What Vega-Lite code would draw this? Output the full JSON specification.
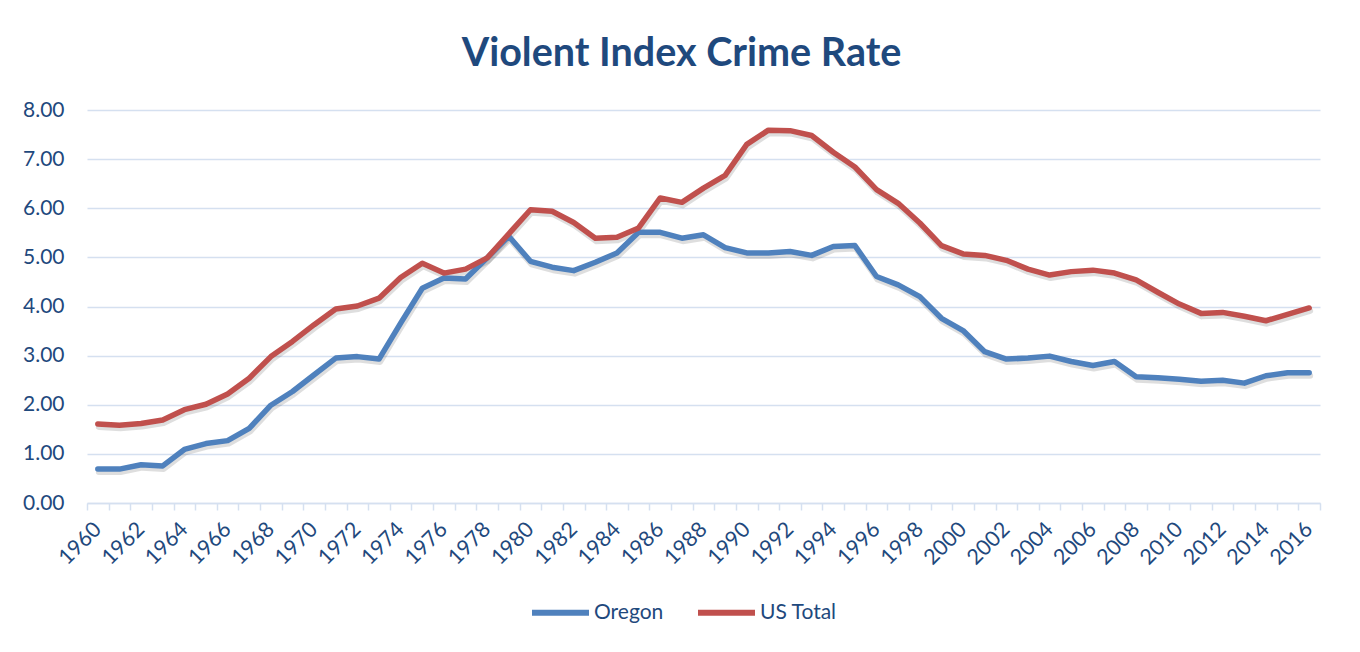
{
  "$schema": "https://vega.github.io/schema/vega-lite/v6.json",
  "autosize": {"type": "none"},
  "width": 1233,
  "height": 393,
  "padding": {"left": 87, "top": 110, "right": 40, "bottom": 149},
  "background": "white",
  "title": {
    "text": "Violent Index Crime Rate",
    "font": "Lato",
    "fontSize": 39.5,
    "fontWeight": "bold",
    "color": "#1F497D",
    "anchor": "middle",
    "dx": -22,
    "offset": 25
  },
  "data": {
    "values": [
      {"year": 1960, "series": "Oregon", "value": 0.69},
      {"year": 1961, "series": "Oregon", "value": 0.69},
      {"year": 1962, "series": "Oregon", "value": 0.78},
      {"year": 1963, "series": "Oregon", "value": 0.755},
      {"year": 1964, "series": "Oregon", "value": 1.09},
      {"year": 1965, "series": "Oregon", "value": 1.21},
      {"year": 1966, "series": "Oregon", "value": 1.27},
      {"year": 1967, "series": "Oregon", "value": 1.52},
      {"year": 1968, "series": "Oregon", "value": 1.99},
      {"year": 1969, "series": "Oregon", "value": 2.27},
      {"year": 1970, "series": "Oregon", "value": 2.61},
      {"year": 1971, "series": "Oregon", "value": 2.95},
      {"year": 1972, "series": "Oregon", "value": 2.98},
      {"year": 1973, "series": "Oregon", "value": 2.93},
      {"year": 1974, "series": "Oregon", "value": 3.66},
      {"year": 1975, "series": "Oregon", "value": 4.37},
      {"year": 1976, "series": "Oregon", "value": 4.58},
      {"year": 1977, "series": "Oregon", "value": 4.56},
      {"year": 1978, "series": "Oregon", "value": 4.99},
      {"year": 1979, "series": "Oregon", "value": 5.43},
      {"year": 1980, "series": "Oregon", "value": 4.92},
      {"year": 1981, "series": "Oregon", "value": 4.80},
      {"year": 1982, "series": "Oregon", "value": 4.73},
      {"year": 1983, "series": "Oregon", "value": 4.90},
      {"year": 1984, "series": "Oregon", "value": 5.09},
      {"year": 1985, "series": "Oregon", "value": 5.51},
      {"year": 1986, "series": "Oregon", "value": 5.51},
      {"year": 1987, "series": "Oregon", "value": 5.39},
      {"year": 1988, "series": "Oregon", "value": 5.46},
      {"year": 1989, "series": "Oregon", "value": 5.20},
      {"year": 1990, "series": "Oregon", "value": 5.09},
      {"year": 1991, "series": "Oregon", "value": 5.09},
      {"year": 1992, "series": "Oregon", "value": 5.12},
      {"year": 1993, "series": "Oregon", "value": 5.04},
      {"year": 1994, "series": "Oregon", "value": 5.22},
      {"year": 1995, "series": "Oregon", "value": 5.24},
      {"year": 1996, "series": "Oregon", "value": 4.61},
      {"year": 1997, "series": "Oregon", "value": 4.44},
      {"year": 1998, "series": "Oregon", "value": 4.20},
      {"year": 1999, "series": "Oregon", "value": 3.76},
      {"year": 2000, "series": "Oregon", "value": 3.51},
      {"year": 2001, "series": "Oregon", "value": 3.08},
      {"year": 2002, "series": "Oregon", "value": 2.93},
      {"year": 2003, "series": "Oregon", "value": 2.95},
      {"year": 2004, "series": "Oregon", "value": 2.99},
      {"year": 2005, "series": "Oregon", "value": 2.88},
      {"year": 2006, "series": "Oregon", "value": 2.80},
      {"year": 2007, "series": "Oregon", "value": 2.88},
      {"year": 2008, "series": "Oregon", "value": 2.57},
      {"year": 2009, "series": "Oregon", "value": 2.55},
      {"year": 2010, "series": "Oregon", "value": 2.52},
      {"year": 2011, "series": "Oregon", "value": 2.48},
      {"year": 2012, "series": "Oregon", "value": 2.50},
      {"year": 2013, "series": "Oregon", "value": 2.44},
      {"year": 2014, "series": "Oregon", "value": 2.59},
      {"year": 2015, "series": "Oregon", "value": 2.65},
      {"year": 2016, "series": "Oregon", "value": 2.65},
      {"year": 1960, "series": "US Total", "value": 1.61},
      {"year": 1961, "series": "US Total", "value": 1.585},
      {"year": 1962, "series": "US Total", "value": 1.62},
      {"year": 1963, "series": "US Total", "value": 1.69},
      {"year": 1964, "series": "US Total", "value": 1.90},
      {"year": 1965, "series": "US Total", "value": 2.01},
      {"year": 1966, "series": "US Total", "value": 2.22},
      {"year": 1967, "series": "US Total", "value": 2.54},
      {"year": 1968, "series": "US Total", "value": 2.98},
      {"year": 1969, "series": "US Total", "value": 3.29},
      {"year": 1970, "series": "US Total", "value": 3.63},
      {"year": 1971, "series": "US Total", "value": 3.95},
      {"year": 1972, "series": "US Total", "value": 4.01},
      {"year": 1973, "series": "US Total", "value": 4.17},
      {"year": 1974, "series": "US Total", "value": 4.59},
      {"year": 1975, "series": "US Total", "value": 4.88},
      {"year": 1976, "series": "US Total", "value": 4.68},
      {"year": 1977, "series": "US Total", "value": 4.76},
      {"year": 1978, "series": "US Total", "value": 4.99},
      {"year": 1979, "series": "US Total", "value": 5.48},
      {"year": 1980, "series": "US Total", "value": 5.97},
      {"year": 1981, "series": "US Total", "value": 5.94},
      {"year": 1982, "series": "US Total", "value": 5.71},
      {"year": 1983, "series": "US Total", "value": 5.39},
      {"year": 1984, "series": "US Total", "value": 5.41},
      {"year": 1985, "series": "US Total", "value": 5.60},
      {"year": 1986, "series": "US Total", "value": 6.21},
      {"year": 1987, "series": "US Total", "value": 6.12},
      {"year": 1988, "series": "US Total", "value": 6.41},
      {"year": 1989, "series": "US Total", "value": 6.67},
      {"year": 1990, "series": "US Total", "value": 7.30},
      {"year": 1991, "series": "US Total", "value": 7.59},
      {"year": 1992, "series": "US Total", "value": 7.58},
      {"year": 1993, "series": "US Total", "value": 7.48},
      {"year": 1994, "series": "US Total", "value": 7.14},
      {"year": 1995, "series": "US Total", "value": 6.84},
      {"year": 1996, "series": "US Total", "value": 6.38},
      {"year": 1997, "series": "US Total", "value": 6.10},
      {"year": 1998, "series": "US Total", "value": 5.70},
      {"year": 1999, "series": "US Total", "value": 5.24},
      {"year": 2000, "series": "US Total", "value": 5.07},
      {"year": 2001, "series": "US Total", "value": 5.04},
      {"year": 2002, "series": "US Total", "value": 4.94},
      {"year": 2003, "series": "US Total", "value": 4.76},
      {"year": 2004, "series": "US Total", "value": 4.64},
      {"year": 2005, "series": "US Total", "value": 4.71},
      {"year": 2006, "series": "US Total", "value": 4.74},
      {"year": 2007, "series": "US Total", "value": 4.68},
      {"year": 2008, "series": "US Total", "value": 4.54},
      {"year": 2009, "series": "US Total", "value": 4.29},
      {"year": 2010, "series": "US Total", "value": 4.05},
      {"year": 2011, "series": "US Total", "value": 3.86},
      {"year": 2012, "series": "US Total", "value": 3.88},
      {"year": 2013, "series": "US Total", "value": 3.80},
      {"year": 2014, "series": "US Total", "value": 3.71},
      {"year": 2015, "series": "US Total", "value": 3.84},
      {"year": 2016, "series": "US Total", "value": 3.97}
    ]
  },
  "layer": [
    {
      "mark": {"type": "line", "color": "#000000", "opacity": 0.13, "strokeWidth": 6, "yOffset": 3, "xOffset": 1, "strokeCap": "round", "strokeJoin": "round"},
      "encoding": {
        "x": {
          "field": "year", "type": "quantitative",
          "scale": {"domain": [1959.5, 2016.5], "nice": false, "zero": false},
          "axis": {
            "orient": "bottom",
            "title": null,
            "labels": false,
            "domain": false,
            "grid": false,
            "ticks": true,
            "tickSize": 7,
            "tickWidth": 1.5,
            "tickColor": "#D5E0F0",
            "values": [1959.5, 1960.5, 1961.5, 1962.5, 1963.5, 1964.5, 1965.5, 1966.5, 1967.5, 1968.5, 1969.5, 1970.5, 1971.5, 1972.5, 1973.5, 1974.5, 1975.5, 1976.5, 1977.5, 1978.5, 1979.5, 1980.5, 1981.5, 1982.5, 1983.5, 1984.5, 1985.5, 1986.5, 1987.5, 1988.5, 1989.5, 1990.5, 1991.5, 1992.5, 1993.5, 1994.5, 1995.5, 1996.5, 1997.5, 1998.5, 1999.5, 2000.5, 2001.5, 2002.5, 2003.5, 2004.5, 2005.5, 2006.5, 2007.5, 2008.5, 2009.5, 2010.5, 2011.5, 2012.5, 2013.5, 2014.5, 2015.5, 2016.5]
          }
        },
        "y": {"field": "value", "type": "quantitative", "scale": {"domain": [0, 8], "nice": false}},
        "detail": {"field": "series"}
      }
    },
    {
      "mark": {"type": "line", "strokeWidth": 5.5, "strokeCap": "round", "strokeJoin": "round"},
      "encoding": {
        "x": {
          "field": "year", "type": "quantitative",
          "axis": {
            "orient": "bottom",
            "title": null,
            "values": [1960, 1962, 1964, 1966, 1968, 1970, 1972, 1974, 1976, 1978, 1980, 1982, 1984, 1986, 1988, 1990, 1992, 1994, 1996, 1998, 2000, 2002, 2004, 2006, 2008, 2010, 2012, 2014, 2016],
            "format": "d",
            "labelAngle": -45,
            "labelAlign": "right",
            "labelBaseline": "middle",
            "labelPadding": 23,
            "ticks": false,
            "grid": false,
            "domain": true,
            "domainColor": "#D5E0F0",
            "domainWidth": 1.5,
            "labelFont": "Lato",
            "labelFontSize": 21.5,
            "labelColor": "#1F497D",
            "labelOverlap": false,
            "labelFlush": false,
            "labelBound": false
          }
        },
        "y": {
          "field": "value", "type": "quantitative",
          "axis": {
            "title": null,
            "values": [0, 1, 2, 3, 4, 5, 6, 7, 8],
            "format": ".2f",
            "domain": false,
            "ticks": false,
            "grid": true,
            "gridColor": "#D5E0F0",
            "gridWidth": 1.5,
            "labelPadding": 23,
            "labelFont": "Lato",
            "labelFontSize": 21,
            "labelColor": "#1F497D"
          }
        },
        "color": {
          "field": "series", "type": "nominal",
          "scale": {"domain": ["Oregon", "US Total"], "range": ["#4F81BD", "#C0504D"]},
          "legend": {
            "title": null,
            "orient": "none",
            "direction": "horizontal",
            "legendX": 442,
            "legendY": 471,
            "symbolType": "stroke",
            "symbolSize": 3249,
            "symbolStrokeWidth": 6,
            "labelFont": "Lato",
            "labelFontSize": 21,
            "labelColor": "#1F497D",
            "labelOffset": 2,
            "columnPadding": 22,
            "padding": 0
          }
        }
      }
    }
  ],
  "resolve": {"axis": {"x": "independent"}},
  "config": {
    "view": {"stroke": null},
    "axis": {"labelFont": "Lato"}
  }
}
